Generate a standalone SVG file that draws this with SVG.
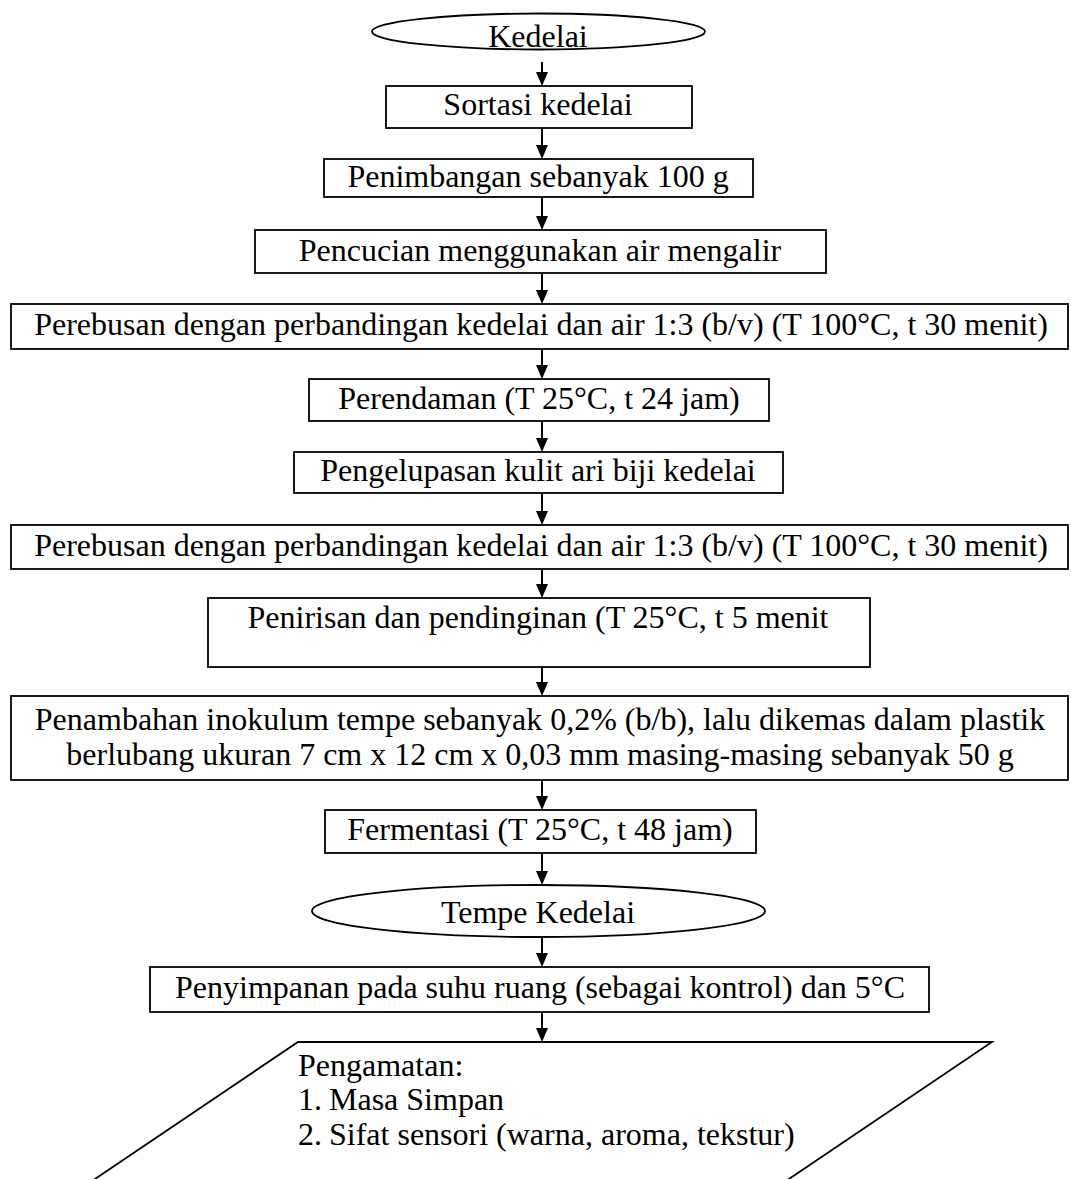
<svg xmlns="http://www.w3.org/2000/svg" width="1071" height="1179" viewBox="0 0 1071 1179">
<style>
.n{fill:#fff;stroke:#000;stroke-width:1.8}
.t{font-family:"Liberation Serif","Times New Roman",serif;font-size:32px;fill:#000}
.c{text-anchor:middle}
.e{stroke:#000;stroke-width:2;fill:none}
</style>
<defs>
<marker id="ah" viewBox="0 0 14 12" refX="10" refY="6" markerWidth="14" markerHeight="12" markerUnits="userSpaceOnUse" orient="auto">
<path d="M0,0 L14,6 L0,12 z" fill="#000"/>
</marker>
</defs>
<rect width="1071" height="1179" fill="#fff"/>
<g id="connectors">
<line class="e" x1="542" y1="62" x2="542" y2="82" marker-end="url(#ah)"/>
<line class="e" x1="542" y1="128" x2="542" y2="155" marker-end="url(#ah)"/>
<line class="e" x1="542" y1="197" x2="542" y2="226" marker-end="url(#ah)"/>
<line class="e" x1="542" y1="273" x2="542" y2="300" marker-end="url(#ah)"/>
<line class="e" x1="542" y1="349" x2="542" y2="375" marker-end="url(#ah)"/>
<line class="e" x1="542" y1="421" x2="542" y2="448" marker-end="url(#ah)"/>
<line class="e" x1="542" y1="493" x2="542" y2="521" marker-end="url(#ah)"/>
<line class="e" x1="542" y1="569" x2="542" y2="594" marker-end="url(#ah)"/>
<line class="e" x1="542" y1="667" x2="542" y2="692" marker-end="url(#ah)"/>
<line class="e" x1="542" y1="780" x2="542" y2="806" marker-end="url(#ah)"/>
<line class="e" x1="542" y1="853" x2="542" y2="881" marker-end="url(#ah)"/>
<line class="e" x1="542" y1="937" x2="542" y2="963" marker-end="url(#ah)"/>
<line class="e" x1="542" y1="1012" x2="542" y2="1038" marker-end="url(#ah)"/>
</g>
<g id="n1"><ellipse class="n" cx="538.5" cy="31.5" rx="166.5" ry="18"/><text class="t c" x="538" y="47">Kedelai</text></g>
<g id="n2"><rect class="n" x="386" y="86" width="306" height="42"/><text class="t c" x="538" y="115">Sortasi kedelai</text></g>
<g id="n3"><rect class="n" x="324" y="159" width="429" height="38"/><text class="t c" x="538" y="187">Penimbangan sebanyak 100 g</text></g>
<g id="n4"><rect class="n" x="255" y="230" width="571" height="43"/><text class="t c" x="540" y="261">Pencucian menggunakan air mengalir</text></g>
<g id="n5"><rect class="n" x="11" y="304" width="1057" height="45"/><text class="t c" x="541" y="335">Perebusan dengan perbandingan kedelai dan air 1:3 (b/v) (T 100°C, t 30 menit)</text></g>
<g id="n6"><rect class="n" x="309" y="379" width="460" height="42"/><text class="t c" x="539" y="409">Perendaman (T 25°C, t 24 jam)</text></g>
<g id="n7"><rect class="n" x="294" y="452" width="489" height="41"/><text class="t c" x="538" y="481">Pengelupasan kulit ari biji kedelai</text></g>
<g id="n8"><rect class="n" x="11" y="525" width="1057" height="44"/><text class="t c" x="541" y="556">Perebusan dengan perbandingan kedelai dan air 1:3 (b/v) (T 100°C, t 30 menit)</text></g>
<g id="n9"><rect class="n" x="208" y="598" width="662" height="69"/><text class="t c" x="538" y="628">Penirisan dan pendinginan (T 25°C, t 5 menit</text></g>
<g id="n10"><rect class="n" x="11" y="696" width="1057" height="84"/><text class="t c" x="540" y="730">Penambahan inokulum tempe sebanyak 0,2% (b/b), lalu dikemas dalam plastik</text><text class="t c" x="540" y="765">berlubang ukuran 7 cm x 12 cm x 0,03 mm masing-masing sebanyak 50 g</text></g>
<g id="n11"><rect class="n" x="325" y="810" width="431" height="43"/><text class="t c" x="540" y="840">Fermentasi (T 25°C, t 48 jam)</text></g>
<g id="n12"><ellipse class="n" cx="538.5" cy="911" rx="226.5" ry="26"/><text class="t c" x="538" y="923">Tempe Kedelai</text></g>
<g id="n13"><rect class="n" x="150" y="967" width="779" height="45"/><text class="t c" x="540" y="998">Penyimpanan pada suhu ruang (sebagai kontrol) dan 5°C</text></g>
<g id="n14"><polygon class="n" points="298,1042 992,1042 786,1181 92,1181"/>
<text class="t" x="298" y="1076">Pengamatan:</text>
<text class="t" x="298" y="1110">1.</text><text class="t" x="329" y="1110">Masa Simpan</text>
<text class="t" x="298" y="1145">2.</text><text class="t" x="329" y="1145">Sifat sensori (warna, aroma, tekstur)</text>
</g>
</svg>
